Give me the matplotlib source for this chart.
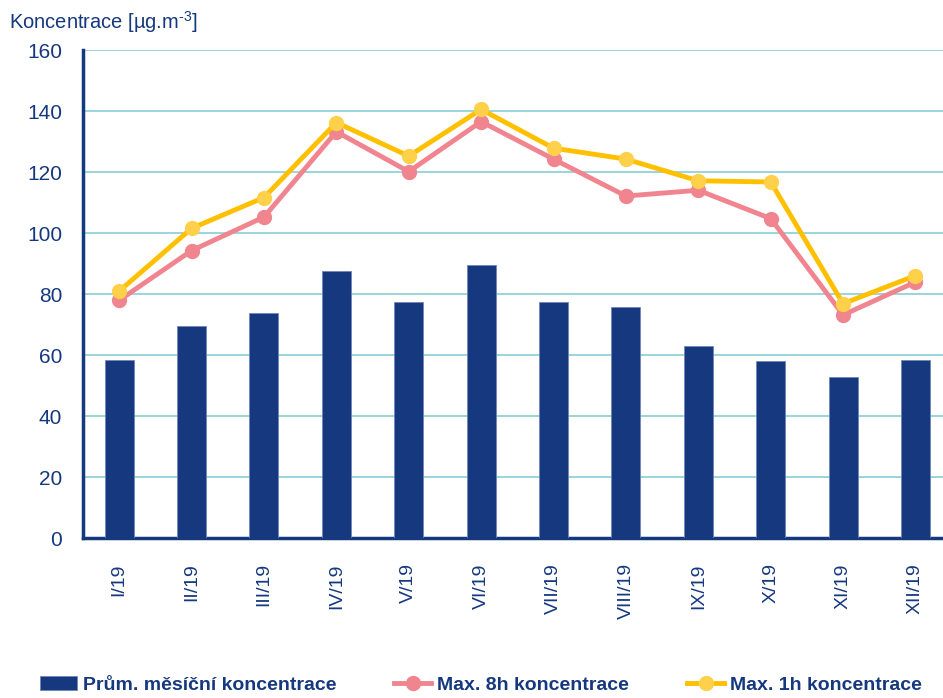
import matplotlib
matplotlib.use("Agg")
import matplotlib.pyplot as plt
import numpy as np

months = ["I/19", "II/19", "III/19", "IV/19", "V/19", "VI/19",
          "VII/19", "VIII/19", "IX/19", "X/19", "XI/19", "XII/19"]
prum = [58.4, 69.6, 73.7, 87.5, 77.3, 89.7, 77.6, 75.7, 62.9, 58.0, 52.8, 58.4]
max8h = [78.0, 94.3, 105.3, 133.3, 120.2, 136.6, 124.3, 112.2, 114.1, 104.8, 73.2, 84.0]
max1h = [81.0, 101.6, 111.7, 136.3, 125.3, 140.6, 127.9, 124.3, 117.2, 116.8, 76.9, 86.1]
yticks = [0, 20, 40, 60, 80, 100, 120, 140, 160]

navy = "#15387f"
pink = "#f0858f"
yellow = "#ffc000"
yellow_m = "#ffd04a"
grid_c = "#92d2da"

plt.rcParams['font.family'] = ['Liberation Sans', 'DejaVu Sans']
plt.rcParams['mathtext.fontset'] = 'custom'
plt.rcParams['mathtext.rm'] = 'Liberation Sans'

fig = plt.figure(figsize=(9.43, 6.98), dpi=100)
ax = fig.add_axes([0.088, 0.229, 0.912, 0.699])

x = np.arange(len(months))
b = ax.bar(x, prum, width=0.4, color=navy, edgecolor="#6f86b8", linewidth=0.6, zorder=3)
l8, = ax.plot(x, max8h, color=pink, lw=3.5, marker="o", ms=10, mfc=pink, mec=pink, zorder=4)
l1, = ax.plot(x, max1h, color=yellow, lw=3.5, marker="o", ms=10, mfc=yellow_m, mec=yellow_m, zorder=5)

ax.set_xlim(-0.5, 11.38)
ax.set_ylim(0, 160)
ax.set_yticks(yticks)
ax.set_xticks(x)
ax.set_xticklabels(months, rotation=90, fontsize=14, color=navy)
ax.tick_params(axis="y", labelsize=15, labelcolor=navy, length=0, pad=15)
ax.tick_params(axis="x", length=0, pad=18)
ax.yaxis.grid(True, color=grid_c, lw=1.3, zorder=0)
ax.set_axisbelow(True)
for s in ["top", "right"]:
    ax.spines[s].set_visible(False)
ax.spines["left"].set_color(navy)
ax.spines["left"].set_linewidth(2.5)
ax.spines["bottom"].set_color(navy)
ax.spines["bottom"].set_linewidth(2.5)

fig.text(0.01, 0.968, r"Koncentrace [µg.m$^{\text{-3}}$]", fontsize=14.5, color=navy, va="center")

leg = fig.legend([b, l8, l1],
                 ["Prům. měsíční koncentrace", "Max. 8h koncentrace", "Max. 1h koncentrace"],
                 loc="center", bbox_to_anchor=(0.51, 0.019), ncol=3, frameon=False,
                 handlelength=1.9, columnspacing=3.0, handletextpad=0.3,
                 prop={"weight": "bold", "size": 14})
for t in leg.get_texts():
    t.set_color(navy)

fig.savefig("out.png", dpi=100)
